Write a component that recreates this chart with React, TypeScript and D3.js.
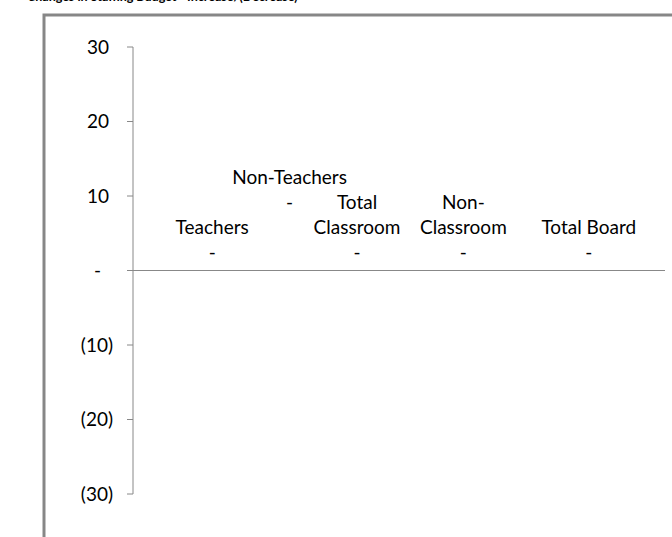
import React from "react";
import * as d3 from "d3";

// ---- data ----
const title = "Changes in Staffing Budget - Increase/(Decrease)";
const categories = ["Teachers", "Non-Teachers", "Total Classroom", "Non-Classroom", "Total Board"];
const categoryLines = [["Teachers"], ["Non-Teachers"], ["Total", "Classroom"], ["Non-", "Classroom"], ["Total Board"]];
const values = [0, 0, 0, 0, 0];
const yTicks = [-30, -20, -10, 0, 10, 20, 30];

// ---- layout ----
const W = 672, H = 537;
const FONT = "Lato, 'Open Sans', sans-serif";
const FS = 19;
const LINE = 25;
const plotLeft = 133, plotRight = 665, plotTop = 47, plotBottom = 494;
const labelShift = [26, -3, -42, -42, -23]; // label offset from band centre
const labelLift = [0, 2, 0, 0, 0]; // extra lines lifted to avoid overlap

const fmt = (v: number) => (v === 0 ? "-" : v < 0 ? `(${Math.abs(v)})` : `${v}`);

export default function App() {
  const y = d3.scaleLinear().domain([-30, 30]).range([plotBottom, plotTop]);
  const x = d3.scaleBand<string>().domain(categories).range([plotLeft, plotRight]);
  const axisColor = "#888888";
  const y0 = y(0);
  return (
    <svg width={W} height={H} style={{ position: "absolute", left: 0, top: 0, background: "#fff" }}
      fontFamily={FONT}>
      <text x={27} y={0.5} fontSize={12.5} fontWeight="bold" fill="#000">{title}</text>
      <rect x={44} y={15} width={W} height={H} fill="#fff" stroke="#878787" strokeWidth={3} />
      {/* y axis */}
      <line x1={plotLeft} x2={plotLeft} y1={y(30)} y2={y(-30)} stroke={axisColor} strokeWidth={1} />
      {yTicks.map((t) => (
        <g key={t}>
          <line x1={plotLeft - 6} x2={plotLeft} y1={y(t)} y2={y(t)} stroke={axisColor} />
          <text x={t === 0 ? 101 : t < 0 ? 113 : 109} y={y(t)} dy="0.35em" textAnchor="end" fontSize={FS} fill="#000">
            {fmt(t)}
          </text>
        </g>
      ))}
      {/* zero line */}
      <line x1={plotLeft} x2={plotRight} y1={y0} y2={y0} stroke={axisColor} />
      {/* bars (zero height) */}
      {values.map((v, i) => (
        <rect key={i} x={x(categories[i])! + x.bandwidth() * 0.2} width={x.bandwidth() * 0.6}
          y={Math.min(y(v), y0)} height={Math.abs(y(v) - y0)} fill="#4f81bd" />
      ))}
      {/* data labels */}
      {values.map((v, i) => {
        const cx = x(categories[i])! + x.bandwidth() / 2 + labelShift[i];
        const lines = [...categoryLines[i], fmt(v)];
        const bottom = Math.min(y(v), y0) - 12 - labelLift[i] * LINE;
        return (
          <text key={i} textAnchor="middle" fontSize={FS} fill="#000">
            {lines.map((l, j) => (
              <tspan key={j} x={cx} y={bottom - (lines.length - 1 - j) * LINE}>{l}</tspan>
            ))}
          </text>
        );
      })}
    </svg>
  );
}
